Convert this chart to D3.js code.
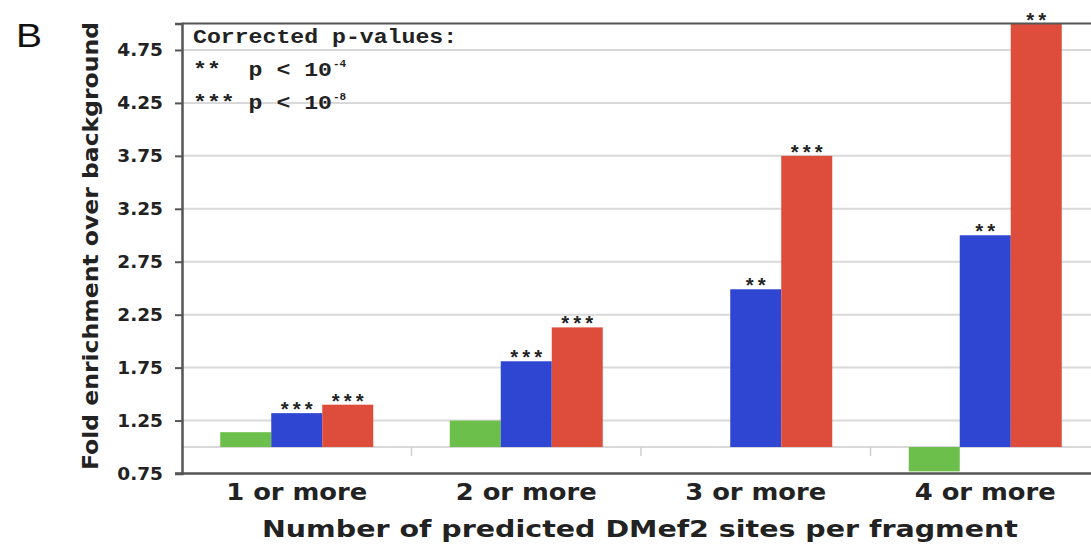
<!DOCTYPE html>
<html>
<head>
<meta charset="utf-8">
<script src="https://cdn.jsdelivr.net/npm/d3@7"></script>
<style>
  html, body { margin: 0; padding: 0; background: #fff; }
  svg { display: block; }
</style>
</head>
<body>
<svg id="chart" width="1091" height="546"></svg>
<script>
// ---- data ----
const categories = ["1 or more", "2 or more", "3 or more", "4 or more"];
const seriesNames = ["control", "set A", "set B"];
const greenValues = [1.14, 1.25, 1.0, 0.77];
const blueValues  = [1.32, 1.81, 2.49, 3.0];
const redValues   = [1.40, 2.13, 3.75, 5.0];
const greenStars  = ["", "", "", ""];
const blueStars   = ["***", "***", "**", "**"];
const redStars    = ["***", "***", "***", "**"];
const yTicks = [0.75, 1.25, 1.75, 2.25, 2.75, 3.25, 3.75, 4.25, 4.75];
const gridValues = [1.0, 1.25, 1.75, 2.25, 2.75, 3.25, 3.75, 4.25, 4.75];
const baselineValue = 1.0;
const legendLines = ["Corrected p-values:", "**  p < 10", "*** p < 10"];
const legendExps = ["", "-4", "-8"];

const colors = ["#6cbf4a", "#2e46d2", "#de4c3b"];

// ---- layout ----
const svg = d3.select("#chart");
const pLeft = 182, pRight = 1100, pTop = 23.5, pBottom = 473.5;

const x = d3.scaleBand().domain(categories).range([pLeft, pRight]).paddingInner(0).paddingOuter(0);
const inner = d3.scaleBand().domain(seriesNames).range([0, 153]);
const innerOffset = (x.bandwidth() - 153) / 2;
const y = d3.scaleLinear().domain([0.75, 5.0]).range([pBottom, pTop]);

// gridlines
svg.append("g").selectAll("line").data(gridValues).join("line")
  .attr("x1", pLeft).attr("x2", 1091)
  .attr("y1", d => y(d)).attr("y2", d => y(d))
  .attr("stroke", "#d9d9d9").attr("stroke-width", 2);

// small category ticks at baseline
svg.append("g").selectAll("line").data(categories.slice(1)).join("line")
  .attr("x1", d => x(d)).attr("x2", d => x(d))
  .attr("y1", y(baselineValue)).attr("y2", y(baselineValue) + 9)
  .attr("stroke", "#cfcfcf").attr("stroke-width", 1.5);

// bars
const rows = categories.map((c, i) => ({
  cat: c,
  vals: [greenValues[i], blueValues[i], redValues[i]],
  stars: [greenStars[i], blueStars[i], redStars[i]]
}));
const barsData = [];
rows.forEach(r => r.vals.forEach((v, j) => barsData.push({cat: r.cat, s: seriesNames[j], v, j, star: r.stars[j]})));

svg.append("g").selectAll("rect").data(barsData).join("rect")
  .attr("x", d => x(d.cat) + innerOffset + inner(d.s))
  .attr("width", inner.bandwidth())
  .attr("y", d => Math.min(y(d.v), y(baselineValue)))
  .attr("height", d => Math.abs(y(d.v) - y(baselineValue)))
  .attr("fill", d => colors[d.j]);

// stars
svg.append("g").selectAll("text").data(barsData.filter(d => d.star)).join("text")
  .attr("x", d => x(d.cat) + innerOffset + inner(d.s) + inner.bandwidth() / 2)
  .attr("y", d => y(d.v) + 4)
  .attr("text-anchor", "middle")
  .attr("font-family", "Liberation Mono, DejaVu Sans Mono, monospace")
  .attr("font-weight", "bold")
  .attr("font-size", 20)
  .attr("fill", "#222")
  .text(d => d.star);

// frame: top line
svg.append("line").attr("x1", pLeft).attr("x2", 1091).attr("y1", pTop).attr("y2", pTop)
  .attr("stroke", "#555").attr("stroke-width", 2);

// y axis
const yAxis = d3.axisLeft(y).tickValues(yTicks).tickSize(7).tickPadding(12).tickFormat(d3.format(".2f"));
const gy = svg.append("g").attr("transform", `translate(${pLeft},0)`).call(yAxis);
gy.select(".domain").attr("stroke", "#555").attr("stroke-width", 2.5);
gy.selectAll(".tick line").attr("stroke", "#555").attr("stroke-width", 2);
gy.selectAll(".tick text")
  .attr("font-family", "DejaVu Sans, Verdana, sans-serif")
  .attr("font-weight", "bold").attr("font-size", 18.5).attr("fill", "#222");

// x axis line
svg.append("line").attr("x1", pLeft - 7).attr("x2", 1091).attr("y1", pBottom).attr("y2", pBottom)
  .attr("stroke", "#555").attr("stroke-width", 2.5);

// x labels
svg.append("g").selectAll("text").data(categories).join("text")
  .attr("x", d => x(d) + x.bandwidth() / 2)
  .attr("y", 500)
  .attr("text-anchor", "middle")
  .attr("font-family", "DejaVu Sans, Verdana, sans-serif")
  .attr("font-weight", "bold").attr("font-size", 23).attr("fill", "#222")
  .attr("textLength", 141).attr("lengthAdjust", "spacingAndGlyphs")
  .text(d => d);

// x title
svg.append("text")
  .attr("x", 640).attr("y", 537)
  .attr("text-anchor", "middle")
  .attr("font-family", "DejaVu Sans, Verdana, sans-serif")
  .attr("font-weight", "bold").attr("font-size", 23.5).attr("fill", "#222")
  .attr("textLength", 756).attr("lengthAdjust", "spacingAndGlyphs")
  .text("Number of predicted DMef2 sites per fragment");

// y title
svg.append("text")
  .attr("transform", "translate(98,246) rotate(-90)")
  .attr("text-anchor", "middle")
  .attr("font-family", "DejaVu Sans, Verdana, sans-serif")
  .attr("font-weight", "bold").attr("font-size", 21.5).attr("fill", "#222")
  .attr("textLength", 448).attr("lengthAdjust", "spacingAndGlyphs")
  .text("Fold enrichment over background");

// panel letter
svg.append("text").attr("x", 16).attr("y", 47)
  .attr("font-family", "Liberation Sans, Arial, sans-serif")
  .attr("font-size", 34).attr("fill", "#111")
  .attr("textLength", 26).attr("lengthAdjust", "spacingAndGlyphs")
  .text("B");

// legend
const lg = svg.append("g").attr("font-family", "Liberation Mono, Courier New, monospace")
  .attr("font-weight", "bold").attr("fill", "#222");
const charW = 13.9;
legendLines.forEach((t, i) => {
  lg.append("text").attr("x", 193).attr("y", 43 + i * 33)
    .attr("font-size", 21)
    .attr("xml:space", "preserve")
    .style("white-space", "pre")
    .attr("textLength", t.length * charW).attr("lengthAdjust", "spacingAndGlyphs")
    .text(t);
  if (legendExps[i]) {
    lg.append("text").attr("x", 193 + t.length * charW + 1).attr("y", 43 + i * 33 - 9)
      .attr("font-size", 11).text(legendExps[i]);
  }
});
</script>
</body>
</html>
